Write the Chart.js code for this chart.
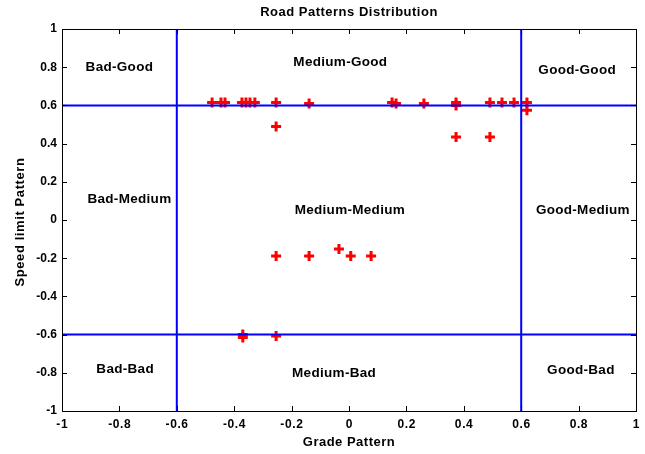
<!DOCTYPE html>
<html>
<head>
<meta charset="utf-8">
<script src="https://cdn.jsdelivr.net/npm/chart.js@4/dist/chart.umd.min.js"></script>
<style>
  body { margin: 0; background: #fff; }
  canvas { display: block; }
</style>
</head>
<body>
<canvas id="roadChart" width="645" height="454"></canvas>
<script>
// Datos: patrón de pendiente (x) y de límite de velocidad (y)
const gradeValues = [
  -0.477, -0.446, -0.432, -0.373, -0.359, -0.345, -0.328, -0.254, -0.254, -0.139,
  0.150, 0.164, 0.261, 0.373, 0.373, 0.373, 0.491, 0.491, 0.533, 0.575, 0.620, 0.620,
  -0.254, -0.139, -0.035, 0.006, 0.077,
  -0.370, -0.370, -0.254,
];
const speedValues = [
  0.615, 0.615, 0.615, 0.615, 0.615, 0.615, 0.615, 0.615, 0.49, 0.61,
  0.615, 0.61, 0.61, 0.615, 0.6, 0.435, 0.615, 0.435, 0.615, 0.615, 0.615, 0.575,
  -0.188, -0.188, -0.152, -0.188, -0.188,
  -0.6, -0.615, -0.607,
];

// Umbrales que dividen las regiones
const thresholds = [-0.6, 0.6];

// Etiquetas de cada región y su posición (en unidades de los ejes)
const regionNames = [
  "Bad-Good", "Medium-Good", "Good-Good",
  "Bad-Medium", "Medium-Medium", "Good-Medium",
  "Bad-Bad", "Medium-Bad", "Good-Bad",
];
const regionX = [-0.8, -0.03, 0.795, -0.765, 0.003, 0.815, -0.78, -0.052, 0.808];
const regionY = [0.8, 0.826, 0.785, 0.11, 0.052, 0.052, -0.78, -0.8, -0.785];

const tickValues = [-1, -0.8, -0.6, -0.4, -0.2, 0, 0.2, 0.4, 0.6, 0.8, 1];
const tickLabels = ["-1", "-0.8", "-0.6", "-0.4", "-0.2", "0", "0.2", "0.4", "0.6", "0.8", "1"];

const chartTitle = "Road Patterns Distribution";
const xTitle = "Grade Pattern";
const yTitle = "Speed limit Pattern";

const FONT = "'Liberation Sans', Arial, sans-serif";

// Líneas azules verticales y horizontales
const lineSets = [];
thresholds.forEach((t) => {
  lineSets.push([{ x: t, y: -1 }, { x: t, y: 1 }]);
  lineSets.push([{ x: -1, y: t }, { x: 1, y: t }]);
});

/** Plugin que dibuja el marco, las marcas internas y todos los textos (estilo MATLAB) */
const matlabFrame = {
  id: "matlabFrame",
  afterDraw(chart) {
    const { ctx, chartArea: a, scales } = chart;
    ctx.save();
    ctx.strokeStyle = "#000";
    ctx.lineWidth = 1;
    ctx.strokeRect(a.left + 0.5, a.top + 0.5, a.right - a.left, a.bottom - a.top);

    // Marcas hacia dentro en los cuatro lados
    ctx.beginPath();
    tickValues.forEach((v) => {
      const px = Math.round(scales.x.getPixelForValue(v)) + 0.5;
      ctx.moveTo(px, a.bottom);
      ctx.lineTo(px, a.bottom - 5);
      ctx.moveTo(px, a.top);
      ctx.lineTo(px, a.top + 5);
      const py = Math.round(scales.y.getPixelForValue(v)) + 0.5;
      ctx.moveTo(a.left, py);
      ctx.lineTo(a.left + 5, py);
      ctx.moveTo(a.right, py);
      ctx.lineTo(a.right - 5, py);
    });
    ctx.stroke();

    ctx.fillStyle = "#000";
    ctx.textBaseline = "middle";

    // Etiquetas de las marcas
    ctx.font = "bold 12px " + FONT;
    ctx.letterSpacing = "0.6px";
    ctx.textAlign = "center";
    tickValues.forEach((v, i) => {
      ctx.fillText(tickLabels[i], scales.x.getPixelForValue(v) + 0.3, a.bottom + 14);
    });
    ctx.letterSpacing = "0px";
    ctx.textAlign = "right";
    tickValues.forEach((v, i) => {
      ctx.fillText(tickLabels[i], a.left - 5, scales.y.getPixelForValue(v));
    });

    // Nombres de las regiones
    ctx.font = "bold 13.5px " + FONT;
    ctx.letterSpacing = "0.3px";
    ctx.textAlign = "center";
    regionNames.forEach((name, i) => {
      ctx.fillText(
        name,
        scales.x.getPixelForValue(regionX[i]),
        scales.y.getPixelForValue(regionY[i])
      );
    });

    // Títulos
    ctx.font = "bold 13px " + FONT;
    ctx.letterSpacing = "0.5px";
    const cx = (a.left + a.right) / 2;
    ctx.fillText(chartTitle, cx, 12);
    ctx.fillText(xTitle, cx, a.bottom + 31);
    ctx.letterSpacing = "0.6px";
    ctx.translate(20, (a.top + a.bottom) / 2 + 2);
    ctx.rotate(-Math.PI / 2);
    ctx.fillText(yTitle, 0, 0);
    ctx.restore();
  },
};

const ctx = document.getElementById("roadChart").getContext("2d");
new Chart(ctx, {
  type: "scatter",
  data: {
    datasets: [
      ...lineSets.map((pts) => ({
        data: pts,
        showLine: true,
        borderColor: "#0000ff",
        borderWidth: 2,
        pointRadius: 0,
        order: 0,
      })),
      {
        label: "Patrones",
        data: gradeValues.map((g, i) => ({ x: g, y: speedValues[i] })),
        pointStyle: "cross",
        pointRadius: 5,
        borderColor: "#ff0000",
        backgroundColor: "#ff0000",
        borderWidth: 3,
        order: 1,
      },
    ],
  },
  options: {
    responsive: false,
    animation: false,
    layout: { padding: { top: 29, right: 9, left: 0, bottom: 0 } },
    plugins: {
      legend: { display: false },
      tooltip: { enabled: false },
      title: { display: false },
    },
    scales: {
      x: {
        type: "linear",
        min: -1,
        max: 1,
        afterFit: (s) => { s.height = 43; },
        grid: { display: false, drawTicks: false },
        border: { display: false },
        ticks: { display: false },
      },
      y: {
        type: "linear",
        min: -1,
        max: 1,
        afterFit: (s) => { s.width = 62; },
        grid: { display: false, drawTicks: false },
        border: { display: false },
        ticks: { display: false },
      },
    },
  },
  plugins: [matlabFrame],
});
</script>
</body>
</html>
